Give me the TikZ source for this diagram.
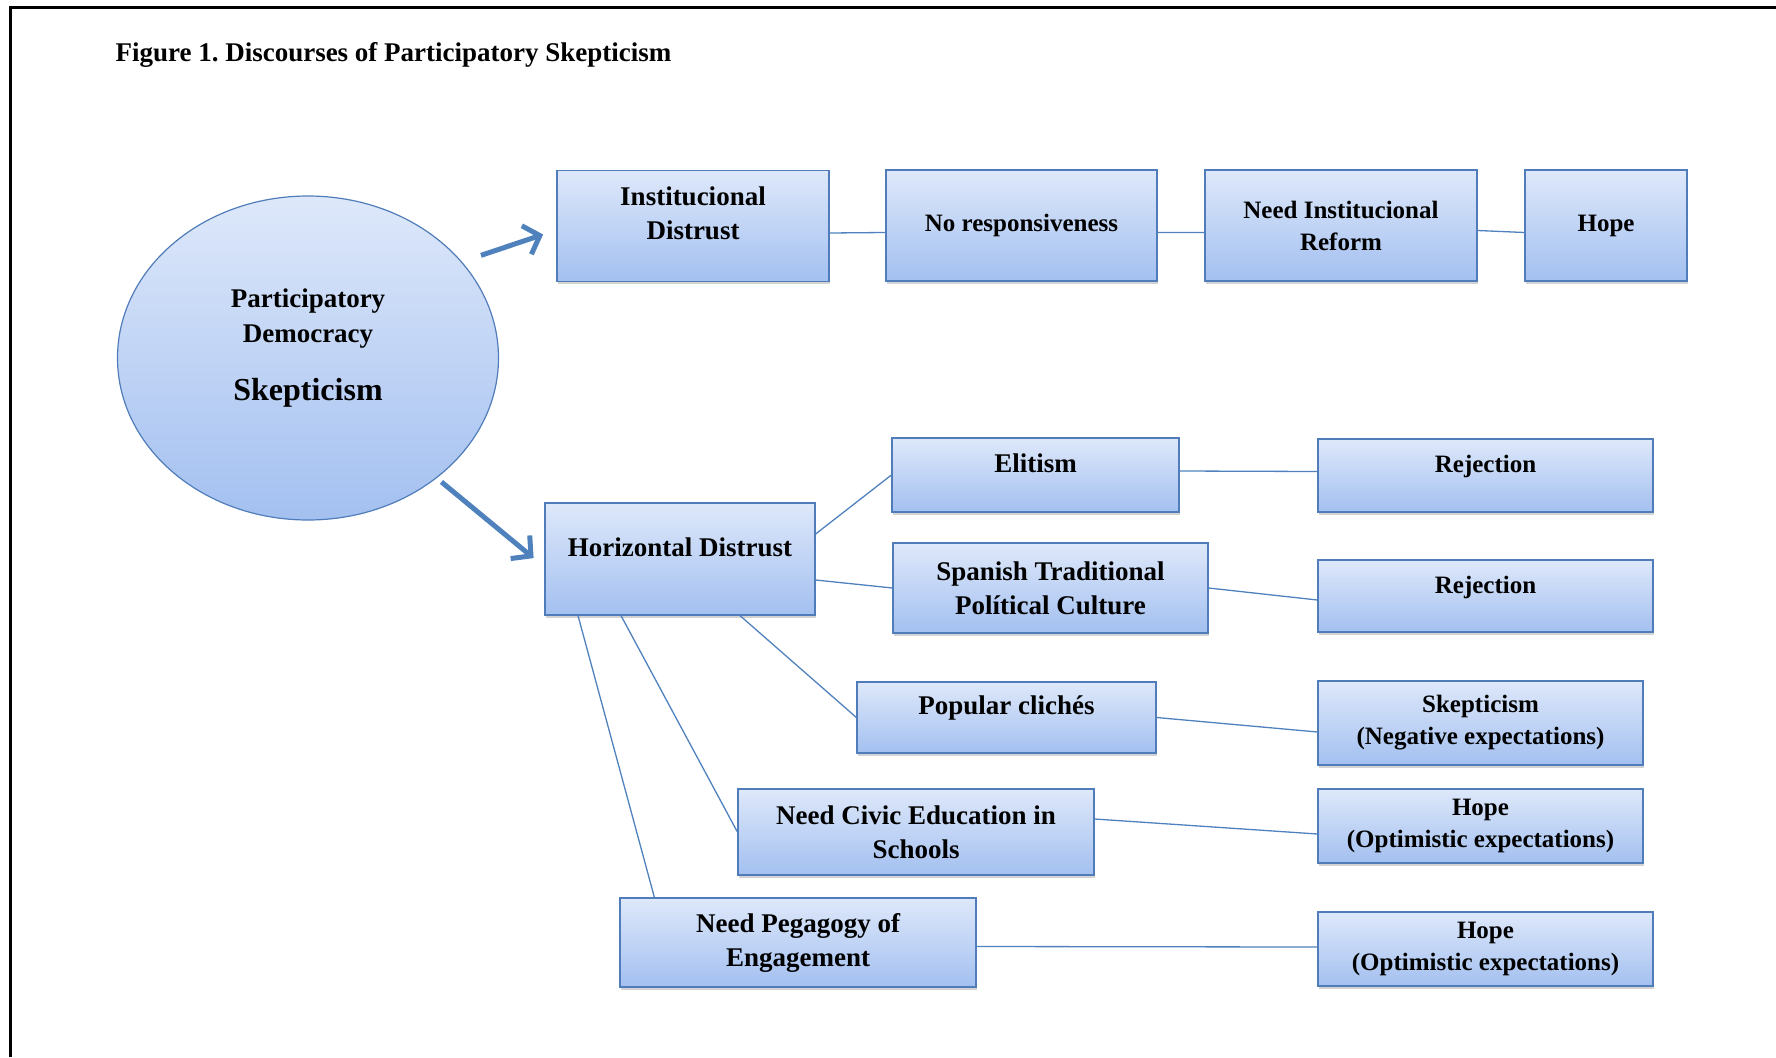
\documentclass[tikz,border=0pt]{standalone}
\usepackage{fontspec}
\setmainfont{Liberation Serif}
\usetikzlibrary{shapes.geometric,shadows,arrows.meta}

\definecolor{boxtop}{RGB}{222,232,250}
\definecolor{boxbot}{RGB}{163,192,240}
\definecolor{boxline}{RGB}{80,125,185}
\definecolor{linkblue}{RGB}{79,129,189}

\tikzset{
  box/.style={draw=boxline, line width=1.2pt, top color=boxtop, bottom color=boxbot,
    inner sep=0pt, align=center,
    drop shadow={shadow xshift=1pt, shadow yshift=-2.5pt, opacity=.35}},
  wh/.style 2 args={minimum width=#1, minimum height=#2},
  raised/.style={text height=19pt, text depth=25pt},
  small/.style={font=\fontsize{25pt}{32pt}\selectfont\bfseries},
  link/.style={draw=linkblue, line width=1.3pt},
  bigarrow/.style={draw=linkblue, line width=5pt, -{Straight Barb[length=14pt,width=30pt]}}
}

\begin{document}
\begin{tikzpicture}[x=1pt, y=-1pt, font=\fontsize{27pt}{34pt}\selectfont\bfseries]
  \useasboundingbox (0,0) rectangle (1776,1057);
  \draw[line width=3pt] (10,1057) -- (10,8) -- (1776,8);
  \path node (title) at (112,61) [anchor=base west] {Figure 1.\ Discourses of Participatory Skepticism}
        node (pds) at (308,358) [ellipse, draw=boxline, line width=1.2pt, top color=boxtop,
             bottom color=boxbot, minimum width=381, minimum height=324, inner sep=0pt,
             align=center, font=\fontsize{27pt}{35pt}\selectfont\bfseries, text depth=27.5pt]
             {Participatory\\Democracy\\[23pt]{\fontsize{32pt}{38pt}\selectfont Skepticism}}
        %
        node (inst)    at (693,226)       [box, wh={272}{111}, text depth=26pt] {Institucional\\Distrust}
        node (noresp)  at (1021.5,225.5)  [box, small, wh={271}{111}] {No responsiveness}
        node (reform)  at (1341,225.5)    [box, small, wh={272}{111}] {Need Institucional\\Reform}
        node (hope)    at (1606,225.5)    [box, small, wh={162}{111}] {Hope}
        %
        node (horiz)   at (680,559)       [box, raised, wh={270}{112}] {Horizontal Distrust}
        node (elit)    at (1035.5,475)    [box, raised, wh={287}{74}] {Elitism}
        node (spanish) at (1050.5,588)    [box, wh={315}{90}] {Spanish Traditional\\Polítical Culture}
        node (cliche)  at (1006.5,717.5)  [box, raised, wh={299}{71}] {Popular clichés}
        node (civic)   at (916,832)       [box, wh={356}{86}] {Need Civic Education in\\Schools}
        node (pedag)   at (798,942.5)     [box, wh={356}{89}] {Need Pegagogy of\\Engagement}
        %
        node (rej1)    at (1485.5,475.5)  [box, small, raised, wh={335}{73}] {Rejection}
        node (rej2)    at (1485.5,596)    [box, small, raised, wh={335}{72}] {Rejection}
        node (skep)    at (1480.5,723)    [box, small, wh={325}{84}] {Skepticism\\(Negative expectations)}
        node (hope1)   at (1480.5,826)    [box, small, wh={325}{74}] {Hope\\(Optimistic expectations)}
        node (hope2)   at (1485.5,949)    [box, small, wh={335}{74}] {Hope\\(Optimistic expectations)};
  \draw[link] ([yshift=-7pt]inst.east) -- ([yshift=-7pt]noresp.west)
              ([yshift=-7pt]noresp.east) -- ([yshift=-7pt]reform.west)
              ([yshift=-5pt]reform.east) -- ([yshift=-7pt]hope.west)
              %
              ([yshift=25pt]horiz.east) -- (elit.west)
              ([yshift=-21pt]horiz.east) -- (spanish.west)
              ([xshift=60pt]horiz.south) -- (cliche.west)
              ([xshift=-59pt]horiz.south) -- (civic.west)
              ([xshift=-102pt]horiz.south) -- ([xshift=35pt]pedag.north west)
              %
              ([yshift=4pt]elit.east) -- ([yshift=4pt]rej1.west)
              (spanish.east) -- ([yshift=-4pt]rej2.west)
              (cliche.east) -- ([yshift=-9pt]skep.west)
              ([yshift=13pt]civic.east) -- ([yshift=-8pt]hope1.west)
              ([yshift=-4pt]pedag.east) -- ([yshift=2pt]hope2.west);
  \draw[bigarrow, shorten <=20pt, shorten >=14pt] (pds.32) -- ([yshift=-4pt]inst.west);
  \draw[bigarrow, shorten <=6pt, shorten >=14pt] (pds.-43) -- ([yshift=-8pt]horiz.west);
\end{tikzpicture}
\end{document}
